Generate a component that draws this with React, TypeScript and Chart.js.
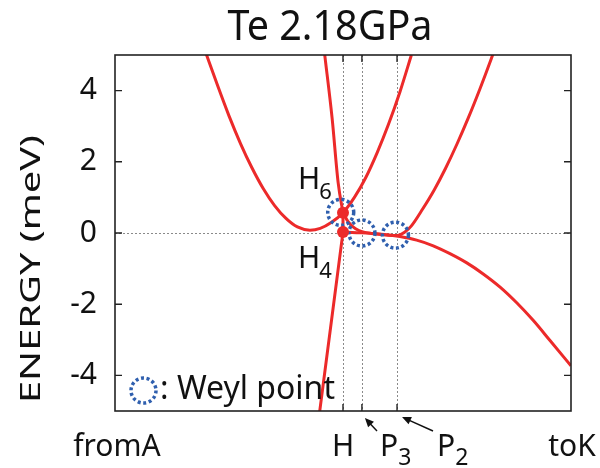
import React, { useEffect, useRef } from 'react';
import { Chart, registerables } from 'chart.js';

Chart.register(...registerables);

// ---- data ----
const titleText = 'Te 2.18GPa';
const yAxisTitle = 'ENERGY (meV)';
const xMin = -1;
const xMax = 1;
const yMin = -5;
const yMax = 5;
const yTickValues = [-4, -2, 0, 2, 4];
const kPointNames = ['H', 'P', 'P'];
const kPointSubs = ['', '3', '2'];
const kPointPositions = [0, 0.083, 0.237];
const endLabels = ['fromA', 'toK'];

const band1X = [-0.6, -0.55, -0.5, -0.45, -0.4, -0.35, -0.3, -0.25, -0.2, -0.145, -0.1, -0.05, 0, 0.05, 0.1, 0.15, 0.2, 0.25, 0.3];
const band1Y = [5.03, 4.14, 3.29, 2.52, 1.84, 1.25, 0.77, 0.41, 0.17, 0.08, 0.13, 0.3, 0.57, 1.0, 1.56, 2.26, 3.06, 3.97, 5.0];

const band2UpperX = [-0.081, -0.048, -0.021, 0];
const band2UpperY = [5.05, 3.24, 1.4, 0.57];
const band2LowerX = [0, 0, -0.104];
const band2LowerY = [0.57, 0.03, -5.1];

const band3X = [0, 0.02, 0.044, 0.07, 0.1, 0.15, 0.2, 0.237, 0.27, 0.3, 0.35, 0.4, 0.45, 0.5, 0.55, 0.6, 0.65, 0.66];
const band3Y = [0.57, 0.34, 0.17, 0.07, 0.01, -0.03, -0.06, -0.07, 0.02, 0.2, 0.68, 1.21, 1.82, 2.5, 3.24, 4.04, 4.89, 5.07];

const band4X = [0, 0.06, 0.12, 0.18, 0.25, 0.323, 0.396, 0.469, 0.543, 0.615, 0.689, 0.762, 0.835, 0.908, 1.0];
const band4Y = [0.03, 0.01, -0.01, -0.04, -0.1, -0.2, -0.36, -0.58, -0.84, -1.15, -1.52, -1.96, -2.46, -3.02, -3.73];

const weylX = [-0.01, 0.083, 0.23];
const weylY = [0.58, 0.0, -0.06];

const dotX = [0, 0];
const dotY = [0.57, 0.03];
const dotNames = ['H', 'H'];
const dotSubs = ['6', '4'];

const legendText = ': Weyl point';

// ---- styles ----
const RED = '#ec2a2a';
const BLUE = '#2f5fae';
const FONT = '"Noto Sans", "Open Sans", sans-serif';

const pts = (xs: number[], ys: number[]) => xs.map((x, i) => ({ x, y: ys[i] }));

function fitText(ctx: CanvasRenderingContext2D, text: string, x: number, y: number, width: number, align: 'left' | 'center' = 'center') {
  const w = ctx.measureText(text).width;
  const s = width / w;
  ctx.save();
  ctx.translate(x, y);
  ctx.scale(s, 1);
  ctx.textAlign = align;
  ctx.fillText(text, 0, 0);
  ctx.restore();
}

function arrow(ctx: CanvasRenderingContext2D, x1: number, y1: number, x2: number, y2: number) {
  const ang = Math.atan2(y2 - y1, x2 - x1);
  ctx.beginPath();
  ctx.moveTo(x1, y1);
  ctx.lineTo(x2 - 5 * Math.cos(ang), y2 - 5 * Math.sin(ang));
  ctx.stroke();
  const L = 9, W = 4;
  ctx.beginPath();
  ctx.moveTo(x2, y2);
  ctx.lineTo(x2 - L * Math.cos(ang) + W * Math.sin(ang), y2 - L * Math.sin(ang) - W * Math.cos(ang));
  ctx.lineTo(x2 - L * Math.cos(ang) - W * Math.sin(ang), y2 - L * Math.sin(ang) + W * Math.cos(ang));
  ctx.closePath();
  ctx.fill();
}

function dottedCircle(ctx: CanvasRenderingContext2D, cx: number, cy: number, r: number) {
  ctx.save();
  ctx.strokeStyle = BLUE;
  ctx.lineWidth = 3.5;
  ctx.setLineDash([3, 2.6]);
  ctx.beginPath();
  ctx.arc(cx, cy, r, 0, Math.PI * 2);
  ctx.stroke();
  ctx.restore();
}

const overlay = {
  id: 'overlay',
  beforeDatasetsDraw(chart: any) {
    const { ctx, chartArea: a, scales } = chart;
    const x = scales.x, y = scales.y;
    ctx.save();
    ctx.strokeStyle = '#8a8a8a';
    ctx.lineWidth = 1;
    ctx.setLineDash([2, 2]);
    kPointPositions.forEach((v) => {
      const px = Math.round(x.getPixelForValue(v)) + 0.5;
      ctx.beginPath();
      ctx.moveTo(px, a.top);
      ctx.lineTo(px, a.bottom);
      ctx.stroke();
    });
    const py0 = Math.round(y.getPixelForValue(0)) + 0.5;
    ctx.beginPath();
    ctx.moveTo(a.left, py0);
    ctx.lineTo(a.right, py0);
    ctx.stroke();
    ctx.restore();
  },
  afterDatasetsDraw(chart: any) {
    const { ctx, chartArea: a, scales } = chart;
    const x = scales.x, y = scales.y;
    ctx.save();
    // frame
    ctx.strokeStyle = '#222';
    ctx.lineWidth = 1.6;
    ctx.strokeRect(a.left, a.top, a.right - a.left, a.bottom - a.top);
    // ticks
    ctx.lineWidth = 1.4;
    const tl = 7;
    yTickValues.forEach((v) => {
      const py = y.getPixelForValue(v);
      ctx.beginPath();
      ctx.moveTo(a.left, py); ctx.lineTo(a.left + tl, py);
      ctx.moveTo(a.right, py); ctx.lineTo(a.right - tl, py);
      ctx.stroke();
    });
    kPointPositions.forEach((v) => {
      const px = x.getPixelForValue(v);
      ctx.beginPath();
      ctx.moveTo(px, a.bottom); ctx.lineTo(px, a.bottom - tl);
      ctx.moveTo(px, a.top); ctx.lineTo(px, a.top + tl);
      ctx.stroke();
    });

    // Weyl circles
    weylX.forEach((v, i) => {
      dottedCircle(ctx, x.getPixelForValue(v), y.getPixelForValue(weylY[i]), 13);
    });
    // red dots
    ctx.fillStyle = RED;
    dotX.forEach((v, i) => {
      ctx.beginPath();
      ctx.arc(x.getPixelForValue(v), y.getPixelForValue(dotY[i]), 6, 0, Math.PI * 2);
      ctx.fill();
    });

    ctx.fillStyle = '#111';
    ctx.strokeStyle = '#111';
    ctx.textBaseline = 'alphabetic';

    // dot labels H6 / H4
    dotX.forEach((v, i) => {
      const px = x.getPixelForValue(v);
      const py = y.getPixelForValue(dotY[i]);
      const base = i === 0 ? py - 24 : py + 36;
      ctx.font = `30px ${FONT}`;
      ctx.textAlign = 'left';
      ctx.fillText(dotNames[i], px - 45, base);
      const w = ctx.measureText(dotNames[i]).width;
      ctx.font = `22px ${FONT}`;
      ctx.fillText(dotSubs[i], px - 45 + w - 1, base + 10);
    });

    // title
    ctx.font = `41px ${FONT}`;
    fitText(ctx, titleText, 330, 40, 205, 'center');

    // y axis title
    ctx.save();
    ctx.translate(30, 269);
    ctx.rotate(-Math.PI / 2);
    ctx.font = `28px ${FONT}`;
    fitText(ctx, yAxisTitle, 0, 10, 268, 'center');
    ctx.restore();

    // x labels
    const base = 456;
    ctx.font = `30px ${FONT}`;
    ctx.textAlign = 'center';
    ctx.fillText(endLabels[0], 117, base);
    ctx.fillText(endLabels[1], 572, base);
    const labelX = [x.getPixelForValue(kPointPositions[0]), 380, 437];
    kPointNames.forEach((n, i) => {
      ctx.font = `30px ${FONT}`;
      if (!kPointSubs[i]) {
        ctx.textAlign = 'center';
        ctx.fillText(n, labelX[i], base);
      } else {
        ctx.textAlign = 'left';
        ctx.fillText(n, labelX[i], base);
        const w = ctx.measureText(n).width;
        ctx.font = `23px ${FONT}`;
        ctx.fillText(kPointSubs[i], labelX[i] + w, base + 9);
      }
    });
    // arrows
    ctx.lineWidth = 1.4;
    arrow(ctx, 377, 431, x.getPixelForValue(kPointPositions[1]) + 3, a.bottom + 7);
    arrow(ctx, 433, 431, x.getPixelForValue(kPointPositions[2]) + 5, a.bottom + 6);

    // legend
    dottedCircle(ctx, 143.5, 390.5, 12.5);
    ctx.fillStyle = '#111';
    ctx.font = `32px ${FONT}`;
    ctx.textAlign = 'left';
    ctx.fillText(legendText, 160, 399);

    ctx.restore();
  },
};

export default function App() {
  const ref = useRef<HTMLCanvasElement | null>(null);
  useEffect(() => {
    if (!ref.current) return;
    const line = (xs: number[], ys: number[], smooth: boolean) => ({
      data: pts(xs, ys),
      showLine: true,
      borderColor: RED,
      backgroundColor: RED,
      borderWidth: 3,
      pointRadius: 0,
      cubicInterpolationMode: smooth ? 'monotone' : 'default',
      tension: smooth ? 0.4 : 0,
      fill: false,
    });
    const chart = new Chart(ref.current, {
      type: 'scatter',
      data: {
        datasets: [
          line(band1X, band1Y, true),
          line(band2UpperX, band2UpperY, true),
          line(band2LowerX, band2LowerY, false),
          line(band3X, band3Y, true),
          line(band4X, band4Y, true),
        ] as any,
      },
      options: {
        responsive: false,
        animation: false,
        layout: { padding: { left: 0, right: 29, top: 55, bottom: 57 } },
        plugins: { legend: { display: false }, tooltip: { enabled: false }, title: { display: false } },
        scales: {
          x: { type: 'linear', min: xMin, max: xMax, display: false },
          y: {
            type: 'linear',
            min: yMin,
            max: yMax,
            border: { display: false },
            grid: { display: false, drawTicks: false },
            afterBuildTicks: (s: any) => { s.ticks = yTickValues.map((v) => ({ value: v })); },
            afterFit: (s: any) => { s.width = 115; },
            ticks: {
              padding: 18,
              color: '#111',
              font: { size: 30, family: FONT },
              callback: (v: any) => String(v),
            },
          },
        },
      },
      plugins: [overlay],
    });
    return () => chart.destroy();
  }, []);
  return (
    <div style={{ position: 'absolute', left: 0, top: 0, width: 600, height: 468, background: '#fff' }}>
      <canvas ref={ref} width={600} height={468} style={{ display: 'block' }} />
    </div>
  );
}
